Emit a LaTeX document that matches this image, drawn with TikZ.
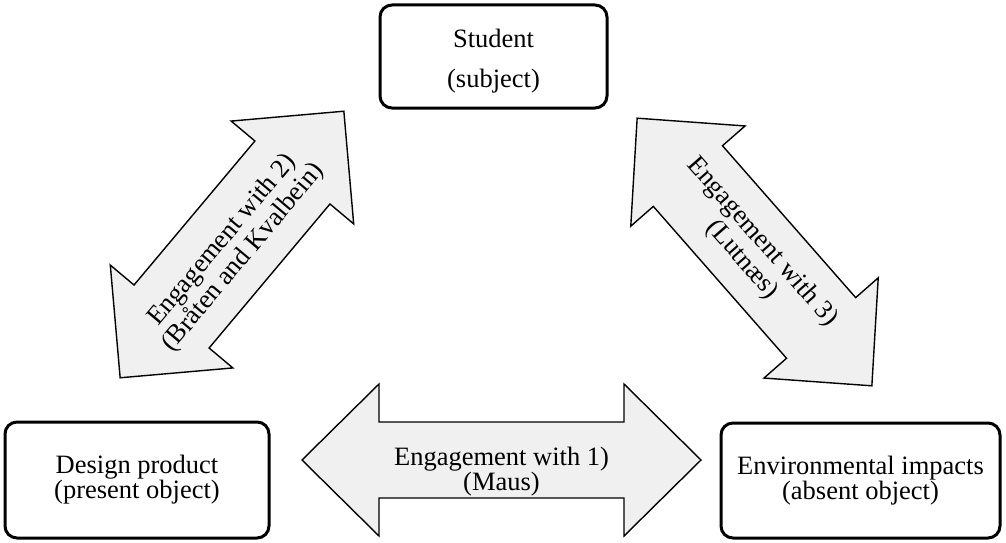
\documentclass[tikz,border=0pt]{standalone}
\usepackage{fontspec}
\setmainfont{Liberation Serif}
\definecolor{arrowgray}{HTML}{F0F0F0}

% Double-headed block arrow centred at (#1,#2), turned by #3 degrees.
% #4 total length, #5 head length, #6 head half width, #7 shaft half width.
\newcommand\twowayarrow[7]{%
  \begin{scope}[shift={(#1,#2)}, rotate=#3]
    \path[flow] ({-#4/2},0) -- ({-#4/2+#5},{#6}) -- ({-#4/2+#5},{#7})
      -- ({#4/2-#5},{#7}) -- ({#4/2-#5},{#6}) -- ({#4/2},0)
      -- ({#4/2-#5},{-#6}) -- ({#4/2-#5},{-#7}) -- ({-#4/2+#5},{-#7})
      -- ({-#4/2+#5},{-#6}) -- cycle;
  \end{scope}}

\begin{document}
\begin{tikzpicture}[x=1pt, y=-1pt,
  box/.style={draw=black, line width=3pt, rounded corners=12pt, fill=white,
              inner sep=0pt, align=center,
              font=\fontsize{26.5}{24}\selectfont},
  flow/.style={draw=black, line width=1.4pt, fill=arrowgray, line join=miter},
  lbl/.style={font=\fontsize{26.5}{24}\selectfont, align=center, inner sep=0pt},
  slanted/.style={lbl, font=\fontsize{26.5}{27}\selectfont}]
\useasboundingbox (0,0) rectangle (1006,543);

% the three parties
\node[box, minimum width=227pt, minimum height=103pt] (student) at (493.5,56.5) {};
\node[align=center, inner sep=0pt, font=\fontsize{26.5}{24}\selectfont]
  (studentlabel) at (493.5,61) {Student\\[16pt](subject)};
\node[box, minimum width=264pt, minimum height=116pt] (product) at (137,480)
  {Design product\\(present object)};
\node[box, minimum width=279pt, minimum height=115pt] (impacts) at (860.5,480.5)
  {Environmental impacts\\(absent object)};

% the three engagements
\twowayarrow{501.5}{460}{0}{399}{77}{76}{38}
\twowayarrow{232}{244.5}{50}{348}{80}{80}{49}
\twowayarrow{754.5}{252}{-48.75}{356}{77}{76}{46}

\node[lbl] (link1) at (501.5,472) {Engagement with 1)\\(Maus)};
\node[slanted, rotate=50] (link2) at (233,249) {Engagement with 2)\\(Bråten and Kvalbein)};
\node[slanted, rotate=-48.75] (link3) at (752,251) {Engagement with 3)\\(Lutnæs)};
\end{tikzpicture}
\end{document}
